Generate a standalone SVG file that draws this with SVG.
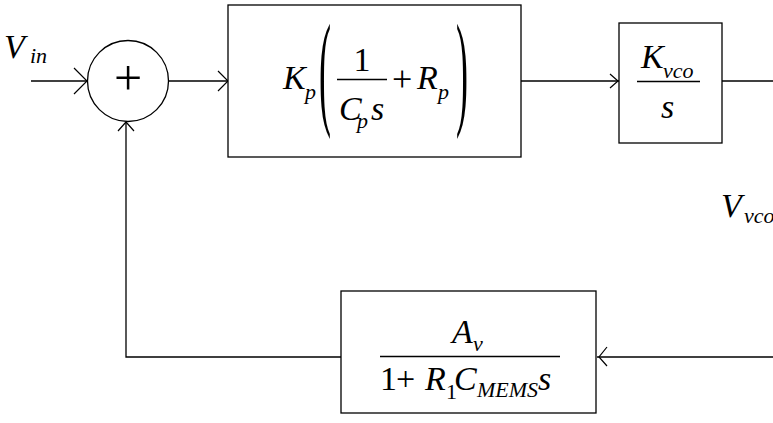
<svg xmlns="http://www.w3.org/2000/svg" width="773" height="423" viewBox="0 0 773 423" font-family="'Liberation Serif', 'DejaVu Serif', serif">
<style>
.ln{fill:none;stroke:#000;stroke-width:1.3}
.ah{fill:none;stroke:#000;stroke-width:1.2}
.box{fill:#fff;stroke:#000;stroke-width:1.3}
.it{font-style:italic;font-size:34px}
.rm{font-size:34px}
.sub{font-style:italic;font-size:22px}
.subr{font-size:22px}
.fr{stroke:#000;stroke-width:1.5}
</style>
<rect width="773" height="423" fill="#fff"/>
<g id="connectors">
  <line class="ln" x1="31" y1="81" x2="87" y2="81"/>
  <polyline class="ah" points="74,68 87,81 74,94"/>
  <line class="ln" x1="168" y1="81" x2="228" y2="81"/>
  <polyline class="ah" points="218,71 228,81 218,91"/>
  <line class="ln" x1="521" y1="81" x2="619" y2="81"/>
  <polyline class="ah" points="610,74 618,81 610,88"/>
  <line class="ln" x1="722" y1="81" x2="773" y2="81"/>
  <line class="ln" x1="773" y1="357" x2="597" y2="357"/>
  <polyline class="ah" points="607,347 599,357 607,366"/>
  <polyline class="ln" points="341,357 126,357 126,122"/>
  <polyline class="ah" points="118,131 126,122 134,131"/>
</g>
<g id="vin">
  <text class="it" x="4" y="58">V</text>
  <text class="sub" x="30" y="63">in</text>
</g>
<g id="sum">
  <circle cx="128" cy="81" r="40.5" fill="#fff" stroke="#000" stroke-width="1.3"/>
  <text x="128" y="94.5" font-size="50" text-anchor="middle">+</text>
</g>
<g id="controller">
  <rect class="box" x="228" y="5" width="293" height="152"/>
  <text class="it" x="283" y="89">K</text>
  <text class="sub" x="305" y="99">p</text>
  <text transform="translate(319,111.6) scale(1,3.52)" font-size="36">(</text>
  <text class="rm" x="362" y="71" text-anchor="middle">1</text>
  <line class="fr" x1="337" y1="79.5" x2="387" y2="79.5"/>
  <text class="it" x="339" y="120">C</text>
  <text class="sub" x="357" y="128">p</text>
  <text class="it" x="371" y="120">s</text>
  <text x="392" y="91" font-size="36">+</text>
  <text class="it" x="417" y="89">R</text>
  <text class="sub" x="438" y="99">p</text>
  <text transform="translate(456,111.6) scale(1,3.52)" font-size="36">)</text>
</g>
<g id="vco">
  <rect class="box" x="619" y="23" width="103" height="120"/>
  <text class="it" x="641" y="68">K</text>
  <text class="sub" x="663" y="78">vco</text>
  <line class="fr" x1="637" y1="81.5" x2="700" y2="81.5"/>
  <text class="it" x="661" y="118">s</text>
</g>
<g id="vvco">
  <text class="it" x="721" y="217">V</text>
  <text class="sub" x="744" y="223">vco</text>
</g>
<g id="feedback">
  <rect class="box" x="341" y="291" width="255" height="122"/>
  <text class="it" x="452" y="343">A</text>
  <text class="sub" x="473" y="351">v</text>
  <line class="fr" x1="380" y1="356.5" x2="560" y2="356.5"/>
  <text class="rm" x="380" y="390">1</text>
  <text class="rm" x="396" y="390">+</text>
  <text class="it" x="425" y="390">R</text>
  <text class="subr" x="446" y="399">1</text>
  <text class="it" x="454" y="390">C</text>
  <text class="sub" x="477" y="397">MEMS</text>
  <text class="it" x="538" y="390">s</text>
</g>
</svg>
